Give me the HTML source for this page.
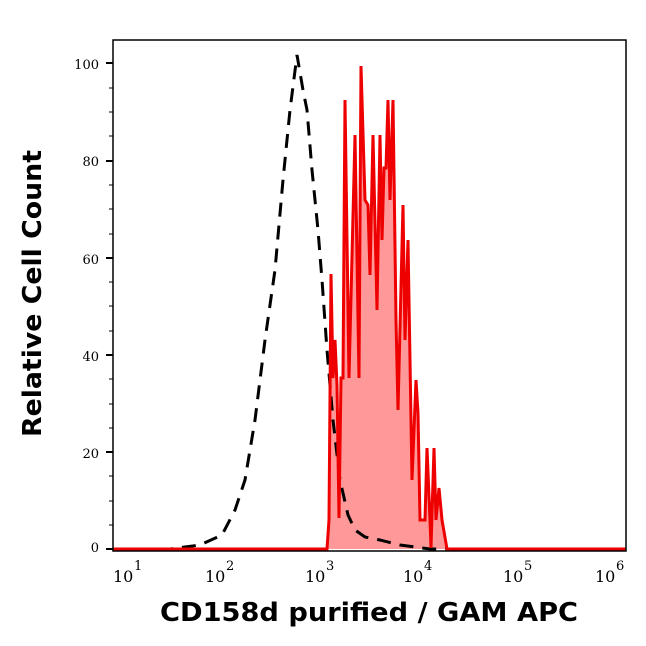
<!DOCTYPE html>
<html><head><meta charset="utf-8"><style>body{margin:0;background:#fff}</style></head><body>
<svg width="646" height="641" xmlns="http://www.w3.org/2000/svg">
<rect width="646" height="641" fill="#fff"/>
<g font-family="DejaVu Serif, serif" font-size="13" fill="#000" text-anchor="end">
<text x="99" y="69">100</text><text x="99" y="166">80</text><text x="99" y="264">60</text><text x="99" y="361">40</text><text x="99" y="458">20</text><text x="99" y="552">0</text>
</g>
<g stroke="#000" stroke-width="2">
<line x1="106" y1="63" x2="113" y2="63"/><line x1="106" y1="161" x2="113" y2="161"/><line x1="106" y1="258" x2="113" y2="258"/><line x1="106" y1="355" x2="113" y2="355"/><line x1="106" y1="452" x2="113" y2="452"/><line x1="106" y1="549" x2="113" y2="549"/>
</g>
<g stroke="#000" stroke-width="1">
<line x1="109" y1="88" x2="113" y2="88"/><line x1="109" y1="112" x2="113" y2="112"/><line x1="109" y1="136" x2="113" y2="136"/>
<line x1="109" y1="185" x2="113" y2="185"/><line x1="109" y1="209" x2="113" y2="209"/><line x1="109" y1="234" x2="113" y2="234"/>
<line x1="109" y1="282" x2="113" y2="282"/><line x1="109" y1="306" x2="113" y2="306"/><line x1="109" y1="331" x2="113" y2="331"/>
<line x1="109" y1="379" x2="113" y2="379"/><line x1="109" y1="404" x2="113" y2="404"/><line x1="109" y1="428" x2="113" y2="428"/>
<line x1="109" y1="476" x2="113" y2="476"/><line x1="109" y1="501" x2="113" y2="501"/><line x1="109" y1="525" x2="113" y2="525"/>
</g>
<g id="xt" stroke="#000"></g>
<script>
var g=document.getElementById('xt'),s='';
for(var d=0;d<6;d++){for(var k=1;k<10;k++){var lx=d+Math.log10(k);var x=121+lx*99.2;if(x<113||x>626)continue;var L=(k==1)?7:4;s+='<line x1="'+x+'" y1="551" x2="'+x+'" y2="'+(551+L)+'" stroke-width="'+(k==1?2:1)+'"/>';}}
var x6=121+5*99.2;s+='<line x1="'+x6+'" y1="551" x2="'+x6+'" y2="558" stroke-width="2"/>';
g.innerHTML=s;
</script>
<g font-family="DejaVu Serif, serif" font-size="16" fill="#000">
<text x="113" y="582">10</text><text x="134" y="570" font-size="13">1</text>
<text x="205" y="582">10</text><text x="226" y="570" font-size="13">2</text>
<text x="305" y="582">10</text><text x="326" y="570" font-size="13">3</text>
<text x="403" y="582">10</text><text x="424" y="570" font-size="13">4</text>
<text x="503" y="582">10</text><text x="524" y="570" font-size="13">5</text>
<text x="595" y="582">10</text><text x="616" y="570" font-size="13">6</text>
</g>
<polygon fill="#ff9999" points="113,549 327,549 329,520 331,274 333,378 335,340 337,385 339,518 341,378 343,378 345,100 349,378 355,135 359,378 361,66 365,200 368,205 370,275 373,135 377,310 380,135 382,240 384,168 386,168 388,100 390,200 393,100 396,320 398,410 403,205 405,340 408,240 412,480 416,380 418,413 420,520 425,520 427,448 430,520 431,548 434,448 436,520 439,488 442,520 447,549 626,549"/>
<polyline fill="none" stroke="#000" stroke-width="3" stroke-dasharray="14,9" points="113,549 170,549 200,545 222,535 235,510 245,480 255,420 265,340 275,270 283,180 290,110 297,55 303,90 307,110 312,170 318,230 322,280 327,350 333,420 340,480 348,515 355,530 365,537 380,540 400,545 430,549 626,549"/>
<polyline fill="none" stroke="#ee0000" stroke-width="3" points="113,549 327,549 329,520 331,274 333,378 335,340 337,385 339,518 341,378 343,378 345,100 349,378 355,135 359,378 361,66 365,200 368,205 370,275 373,135 377,310 380,135 382,240 384,168 386,168 388,100 390,200 393,100 396,320 398,410 403,205 405,340 408,240 412,480 416,380 418,413 420,520 425,520 427,448 430,520 431,548 434,448 436,520 439,488 442,520 447,549 626,549"/>
<rect x="113" y="40" width="513" height="511" fill="none" stroke="#000" stroke-width="1.5"/>
<text x="160" y="621" textLength="418" lengthAdjust="spacingAndGlyphs" font-family="DejaVu Sans, sans-serif" font-weight="bold" font-size="26">CD158d purified / GAM APC</text>
<text transform="translate(41,437) rotate(-90)" textLength="287" lengthAdjust="spacingAndGlyphs" font-family="DejaVu Sans, sans-serif" font-weight="bold" font-size="26">Relative Cell Count</text>
</svg>
</body></html>
